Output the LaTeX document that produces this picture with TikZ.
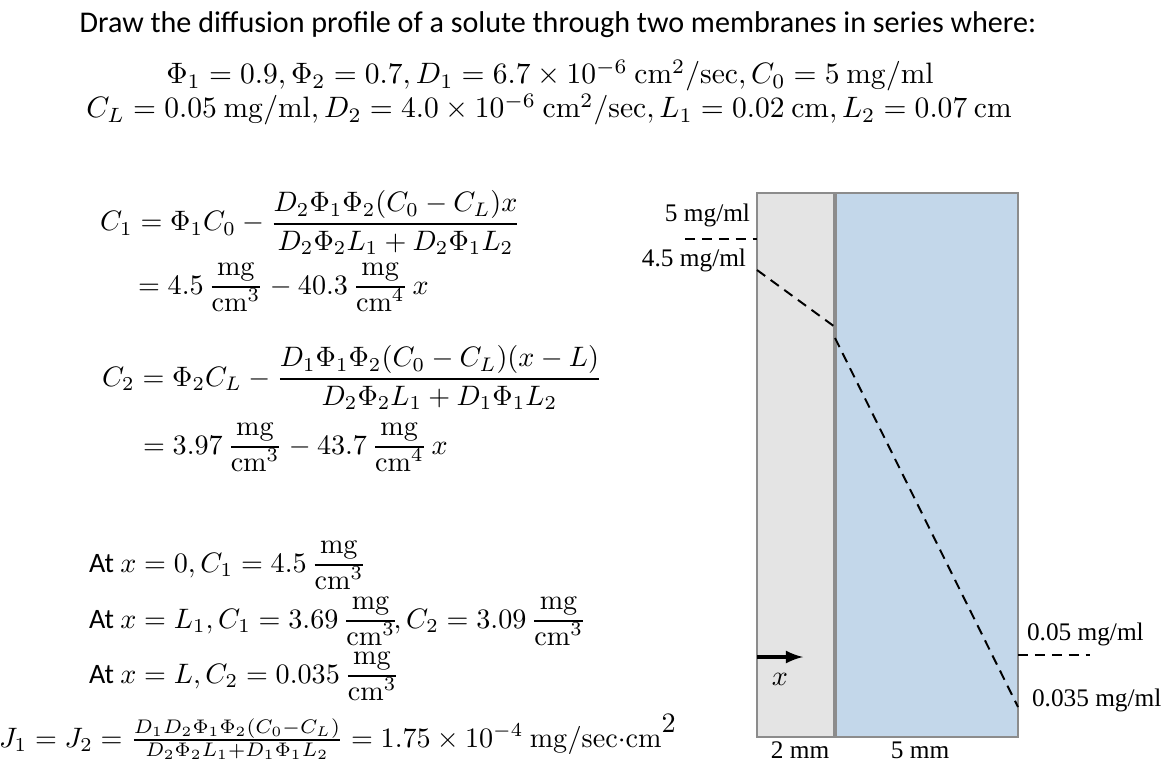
\RequirePackage{fix-cm}
\documentclass[tikz,border=0pt]{standalone}
\usepackage{amsmath,amssymb}
\usepackage[no-math]{fontspec}
\setmainfont{Carlito}
\newfontfamily\lblfont{Liberation Serif}
\usetikzlibrary{positioning, calc}
\usetikzlibrary{arrows}

\definecolor{memgray}{HTML}{E4E4E4}
\definecolor{memblue}{HTML}{C3D7EA}
\definecolor{edgegray}{HTML}{8C8C8C}

% tight unit fraction mg/cm^n
\newcommand{\mgcm}[1]{\genfrac{}{}{}{1}{\textstyle\mathrm{mg}\vphantom{\big(}}{\textstyle\mathrm{cm}^{#1}}}

\begin{document}
\begin{tikzpicture}[x=0.0125cm, y=-0.0125cm,
    every node/.style={inner sep=0pt, outer sep=0pt},
    eqn/.style={anchor=base west, font=\fontsize{10}{12}\selectfont},
    lbl/.style={font=\lblfont\fontsize{9}{11}\selectfont},
    profile/.style={line width=0.7pt, dash pattern=on 3.6pt off 2.4pt},
    wall/.style={draw=edgegray, line width=0.7pt}]

    \useasboundingbox (0,0) rectangle (1163,778);

    % Parameters (pixel positions of the membranes)
    \def\xa{757} % left face
    \def\xb{835} % interface
    \def\xc{1018} % right face
    \def\ytop{193}
    \def\ybot{737}

    % Problem statement
    \node[anchor=base, font=\fontsize{10.7}{13}\selectfont] (title) at (558,33)
        {Draw the diffusion profile of a solute through two membranes in series where:};
    \node[anchor=base, font=\fontsize{10.5}{12}\selectfont] (par1) at (550,84)
        {$\Phi_1 = 0.9, \Phi_2 = 0.7, D_1 = 6.7\times10^{-6}~\mathrm{cm^2/sec}, C_0 = 5~\mathrm{mg/ml}$};
    \node[anchor=base, font=\fontsize{10.5}{12}\selectfont] (par2) at (549,118)
        {$C_L = 0.05~\mathrm{mg/ml}, D_2 = 4.0\times10^{-6}~\mathrm{cm^2/sec}, L_1 = 0.02~\mathrm{cm}, L_2 = 0.07~\mathrm{cm}$};

    % Concentration profiles
    \node[eqn] (c1) at (100,231)
        {$C_1 = \Phi_1C_0 - \dfrac{D_2\Phi_1\Phi_2(C_0-C_L)x}{D_2\Phi_2L_1 + D_2\Phi_1L_2}$};
    \node[eqn] (c1num) at (138,294) {$= 4.5\,\mgcm{3} - 40.3\,\mgcm{4}\,x$};
    \node[eqn] (c2) at (102,386)
        {$C_2 = \Phi_2C_L - \dfrac{D_1\Phi_1\Phi_2(C_0-C_L)(x-L)}{D_2\Phi_2L_1 + D_1\Phi_1L_2}$};
    \node[eqn] (c2num) at (143,454) {$= 3.97\,\mgcm{3} - 43.7\,\mgcm{4}\,x$};

    % Values at the faces
    \node[eqn] (at0) at (89,572) {At $x = 0, C_1 = 4.5\,\mgcm{3}$};
    \node[eqn] (atL1) at (89,628)
        {At $x = L_1, C_1 = 3.69\,\mgcm{3}\!, C_2 = 3.09\,\mgcm{3}$};
    \node[eqn] (atL) at (89,683) {At $x = L, C_2 = 0.035\,\mgcm{3}$};
    \node[eqn] (flux) at (-1,747)
        {$J_1 = J_2 = \frac{D_1D_2\Phi_1\Phi_2(C_0{-}C_L)}{D_2\Phi_2L_1{+}D_1\Phi_1L_2} = 1.75\times10^{-4}~\mathrm{mg/sec{\cdot}cm}^{\textstyle 2}$};

    % Membranes
    \fill[memgray] (\xa,\ytop) rectangle (\xb,\ybot);
    \fill[memblue] (\xb,\ytop) rectangle (\xc,\ybot);
    \draw[wall] (\xa,\ytop) rectangle (\xc,\ybot);
    \draw[wall, line width=1.1pt] (\xb,\ytop) -- (\xb,\ybot);

    % Profile points
    \coordinate (c0) at (685,239);
    \coordinate (p0) at (\xa,239);
    \coordinate (q0) at (\xa,270);
    \coordinate (q1) at (\xb,327);
    \coordinate (r0) at (\xb,338);
    \coordinate (r1) at (\xc,707);
    \coordinate (s0) at (\xc,655);
    \coordinate (cL) at (1090,655);

    \draw[profile] (c0) -- (p0);
    \draw[profile] (q0) -- (q1);
    \draw[profile] (r0) -- (r1);
    \draw[profile] (s0) -- (cL);

    \node[lbl, anchor=base east] (lc0) at (750,222) {5 mg/ml};
    \node[lbl, anchor=base east] (lq0) at (746,267) {4.5 mg/ml};
    \node[lbl, anchor=base west] (lcL) at (1027,640) {0.05 mg/ml};
    \node[lbl, anchor=base west] (lr1) at (1032,706) {0.035 mg/ml};

    % Direction of x
    \coordinate (x0) at (\xa,657);
    \coordinate (x1) at (803,657);
    \draw[-latex, line width=1.1pt] (x0) -- (x1);
    \node[lbl, font=\fontsize{10}{12}\selectfont] (xl) at (780,679) {$x$};

    % Thicknesses
    \node[lbl, anchor=base] (w1) at (800,758) {2 mm};
    \node[lbl, anchor=base] (w2) at (920,758) {5 mm};

\end{tikzpicture}
\end{document}
